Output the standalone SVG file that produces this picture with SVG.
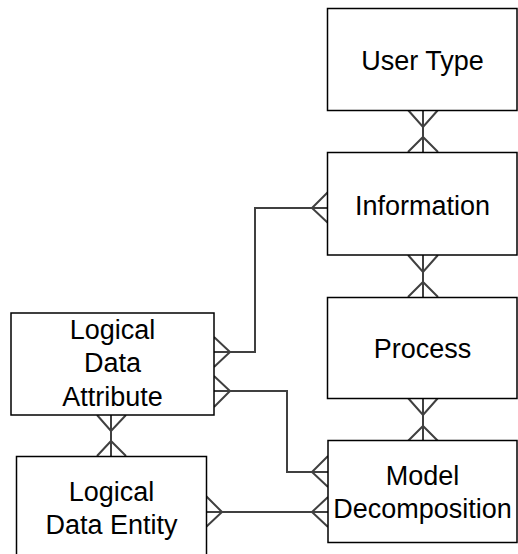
<svg xmlns="http://www.w3.org/2000/svg" width="518" height="554" viewBox="0 0 518 554">
<style>
.box{fill:#fff;stroke:#000;stroke-width:1.5}
.lbl{font-family:"Liberation Sans",Arial,sans-serif;font-size:27px;fill:#000;text-anchor:middle}
.con{fill:none;stroke:#404040;stroke-width:2}
</style>
<rect width="518" height="554" fill="#fff"/>
<g id="connectors">
<path class="con" d="M423,110V152M408,110L423,127L438,110M408,152L423,137L438,152"/>
<path class="con" d="M423,255V297M408,255L423,272L438,255M408,297L423,282L438,297"/>
<path class="con" d="M423,398V441M408,398L423,415L438,398M408,441L423,426L438,441"/>
<path class="con" d="M328,208H255V352H214M328,192L312,208L328,223M214,337L230,352L214,367"/>
<path class="con" d="M214,391H287V472H328M214,376L230,391L214,407M328,456L312,472L328,487"/>
<path class="con" d="M206,512H328M206,496L222,512L206,527M328,497L312,512L328,527"/>
<path class="con" d="M111,415V456M97,415L111,431L126,415M97,456L111,441L126,456"/>
</g>
<g id="user-type">
<rect class="box" x="327.5" y="8.5" width="189.5" height="102"/>
<text class="lbl" x="422.5" y="70">User Type</text>
</g>
<g id="information">
<rect class="box" x="327.5" y="152.5" width="189.5" height="102.5"/>
<text class="lbl" x="422.5" y="215">Information</text>
</g>
<g id="process">
<rect class="box" x="327.5" y="297.5" width="189.5" height="101"/>
<text class="lbl" x="422.5" y="358">Process</text>
</g>
<g id="model-decomposition">
<rect class="box" x="328" y="440.5" width="189" height="102"/>
<text class="lbl" x="422.5" y="485">Model</text>
<text class="lbl" x="422.5" y="518">Decomposition</text>
</g>
<g id="logical-data-attribute">
<rect class="box" x="11" y="313" width="203" height="102"/>
<text class="lbl" x="112.5" y="339">Logical</text>
<text class="lbl" x="112.5" y="372">Data</text>
<text class="lbl" x="112.5" y="406">Attribute</text>
</g>
<g id="logical-data-entity">
<rect class="box" x="16.5" y="456.5" width="190" height="110"/>
<text class="lbl" x="111.5" y="501">Logical</text>
<text class="lbl" x="111.5" y="534">Data Entity</text>
</g>
</svg>
